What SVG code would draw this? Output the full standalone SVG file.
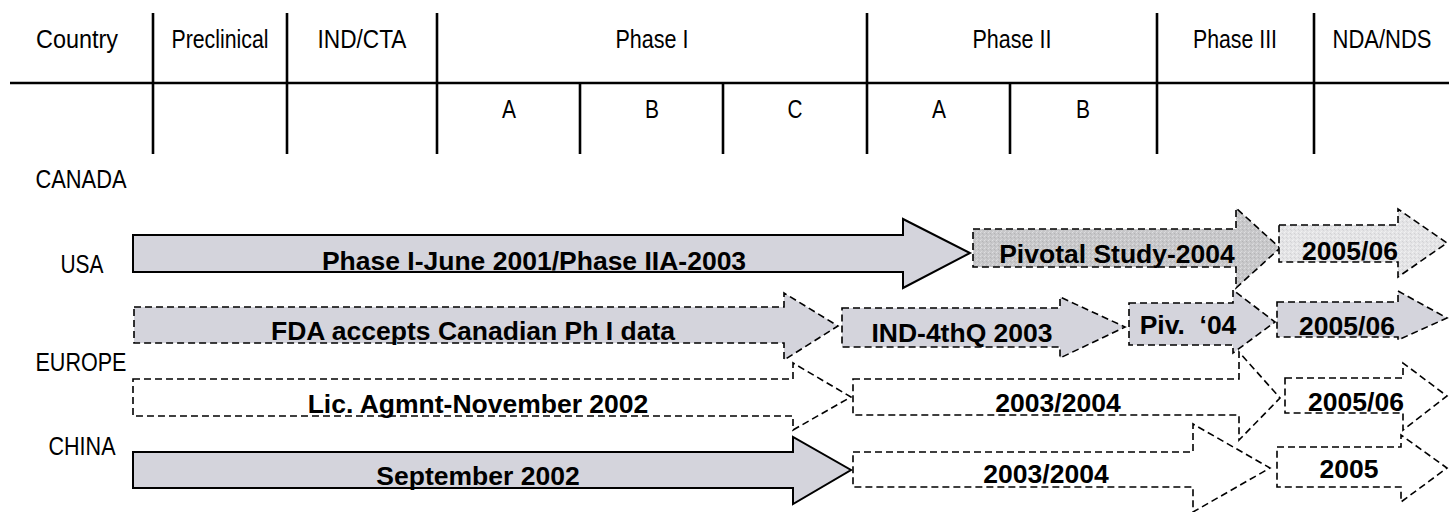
<svg xmlns="http://www.w3.org/2000/svg" width="1449" height="512" viewBox="0 0 1449 512">
<style>
.hd{font-family:"Liberation Sans",Arial,sans-serif;font-size:26.5px;fill:#000;text-anchor:middle}
.lb{font-family:"Liberation Sans",Arial,sans-serif;font-weight:bold;font-size:26.5px;fill:#000;text-anchor:middle}
.grid{stroke:#000;stroke-width:2.6;fill:none}
.solid{fill:#d4d4dc;stroke:#000;stroke-width:2}
.dg{fill:#d4d4dc;stroke:#000;stroke-width:1.6;stroke-dasharray:7 4}
.dw{fill:#fff;stroke:#000;stroke-width:1.6;stroke-dasharray:7 4}
.dp{fill:url(#texDark);stroke:#000;stroke-width:1.6;stroke-dasharray:7 4}
.dl{fill:url(#texLight);stroke:#000;stroke-width:1.6;stroke-dasharray:7 4}
</style>
<defs>
<pattern id="texDark" width="4" height="4" patternUnits="userSpaceOnUse">
<rect width="4" height="4" fill="#c8c8ca"/>
<rect x="0" y="0" width="1" height="1" fill="#dedee0"/>
<rect x="2" y="1" width="1" height="1" fill="#b4b4b6"/>
<rect x="1" y="3" width="1" height="1" fill="#d8d8da"/>
<rect x="3" y="2" width="1" height="1" fill="#bcbcbe"/>
</pattern>
<pattern id="texLight" width="4" height="4" patternUnits="userSpaceOnUse">
<rect width="4" height="4" fill="#e4e4e6"/>
<rect x="0" y="0" width="1" height="1" fill="#f2f2f2"/>
<rect x="2" y="1" width="1" height="1" fill="#d2d2d4"/>
<rect x="1" y="3" width="1" height="1" fill="#f0f0f0"/>
<rect x="3" y="2" width="1" height="1" fill="#d6d6d8"/>
</pattern>
</defs>
<rect width="1449" height="512" fill="#fff"/>
<g id="grid" class="grid">
<line x1="10" y1="83" x2="1449" y2="83"/>
<line x1="153" y1="13" x2="153" y2="154"/>
<line x1="287" y1="13" x2="287" y2="154"/>
<line x1="437" y1="13" x2="437" y2="154"/>
<line x1="867" y1="13" x2="867" y2="154"/>
<line x1="1157" y1="13" x2="1157" y2="154"/>
<line x1="1314" y1="13" x2="1314" y2="154"/>
<line x1="580" y1="83" x2="580" y2="154"/>
<line x1="723" y1="83" x2="723" y2="154"/>
<line x1="1010" y1="83" x2="1010" y2="154"/>
</g>
<g id="header">
<text class="hd" x="77" y="48" textLength="82" lengthAdjust="spacingAndGlyphs">Country</text>
<text class="hd" x="220" y="48" textLength="97" lengthAdjust="spacingAndGlyphs">Preclinical</text>
<text class="hd" x="362" y="48" textLength="89" lengthAdjust="spacingAndGlyphs">IND/CTA</text>
<text class="hd" x="652" y="48" textLength="73" lengthAdjust="spacingAndGlyphs">Phase I</text>
<text class="hd" x="1012" y="48" textLength="79" lengthAdjust="spacingAndGlyphs">Phase II</text>
<text class="hd" x="1235" y="48" textLength="84" lengthAdjust="spacingAndGlyphs">Phase III</text>
<text class="hd" x="1382" y="48" textLength="99" lengthAdjust="spacingAndGlyphs">NDA/NDS</text>
<text class="hd" x="509" y="118" textLength="14" lengthAdjust="spacingAndGlyphs">A</text>
<text class="hd" x="652" y="118" textLength="14" lengthAdjust="spacingAndGlyphs">B</text>
<text class="hd" x="795" y="118" textLength="15" lengthAdjust="spacingAndGlyphs">C</text>
<text class="hd" x="939" y="118" textLength="14" lengthAdjust="spacingAndGlyphs">A</text>
<text class="hd" x="1083" y="118" textLength="14" lengthAdjust="spacingAndGlyphs">B</text>
</g>
<g id="rows">
<text class="hd" x="81" y="188" textLength="91" lengthAdjust="spacingAndGlyphs">CANADA</text>
<text class="hd" x="82" y="273" textLength="43" lengthAdjust="spacingAndGlyphs">USA</text>
<text class="hd" x="81" y="371" textLength="91" lengthAdjust="spacingAndGlyphs">EUROPE</text>
<text class="hd" x="82" y="455" textLength="67" lengthAdjust="spacingAndGlyphs">CHINA</text>
</g>
<g id="usa-phase1">
<path class="solid" d="M133,235 L903,235 L903,219 L970,253 L903,288 L903,272 L133,272 Z"/>
<text class="lb" x="534" y="270">Phase I-June 2001/Phase IIA-2003</text>
</g>
<g id="usa-pivotal">
<path class="dp" d="M973,229 L1236,229 L1236,208 L1280,248 L1236,288 L1236,267 L973,267 Z"/>
<text class="lb" x="1117" y="263">Pivotal Study-2004</text>
</g>
<g id="usa-nda">
<path class="dl" d="M1279,225 L1398,225 L1398,209 L1447,243 L1398,277 L1398,262 L1279,262 Z"/>
<text class="lb" x="1350" y="260">2005/06</text>
</g>
<g id="usa-fda">
<path class="dg" d="M134,307 L784,307 L784,293 L838,326 L784,360 L784,343 L134,343 Z"/>
<text class="lb" x="473" y="340">FDA accepts Canadian Ph I data</text>
</g>
<g id="usa-ind">
<path class="dg" d="M842,308 L1060,308 L1060,297 L1125,327 L1060,358 L1060,347 L842,347 Z"/>
<text class="lb" x="962" y="342">IND-4thQ 2003</text>
</g>
<g id="usa-piv04">
<path class="dg" d="M1129,303 L1233,303 L1233,290 L1275,322 L1233,353 L1233,345 L1129,345 Z"/>
<text class="lb" x="1188" y="334" xml:space="preserve">Piv.  ‘04</text>
</g>
<g id="usa-nda2">
<path class="dg" d="M1277,302 L1398,302 L1398,291 L1447,318 L1398,340 L1398,337 L1277,337 Z"/>
<text class="lb" x="1347" y="335">2005/06</text>
</g>
<g id="europe-lic">
<path class="dw" d="M133,379 L793,379 L793,363 L851,397 L793,430 L793,416 L133,416 Z"/>
<text class="lb" x="478" y="413">Lic. Agmnt-November 2002</text>
</g>
<g id="europe-phase">
<path class="dw" d="M853,379 L1239,379 L1239,352 L1280,398 L1239,440 L1239,415 L853,415 Z"/>
<text class="lb" x="1058" y="412">2003/2004</text>
</g>
<g id="europe-nda">
<path class="dw" d="M1285,378 L1403,378 L1403,363 L1447,396 L1403,430 L1403,413 L1285,413 Z"/>
<text class="lb" x="1356" y="411">2005/06</text>
</g>
<g id="china-sep">
<path class="solid" d="M133,452 L793,452 L793,437 L851,470 L793,504 L793,488 L133,488 Z"/>
<text class="lb" x="478" y="485">September 2002</text>
</g>
<g id="china-phase">
<path class="dw" d="M853,452 L1193,452 L1193,424 L1270,468 L1193,512 L1193,487 L853,487 Z"/>
<text class="lb" x="1046" y="483">2003/2004</text>
</g>
<g id="china-nda">
<path class="dw" d="M1277,447 L1401,447 L1401,435 L1447,468 L1401,502 L1401,487 L1277,487 Z"/>
<text class="lb" x="1349" y="478">2005</text>
</g>
<g id="connectors"/>
</svg>
